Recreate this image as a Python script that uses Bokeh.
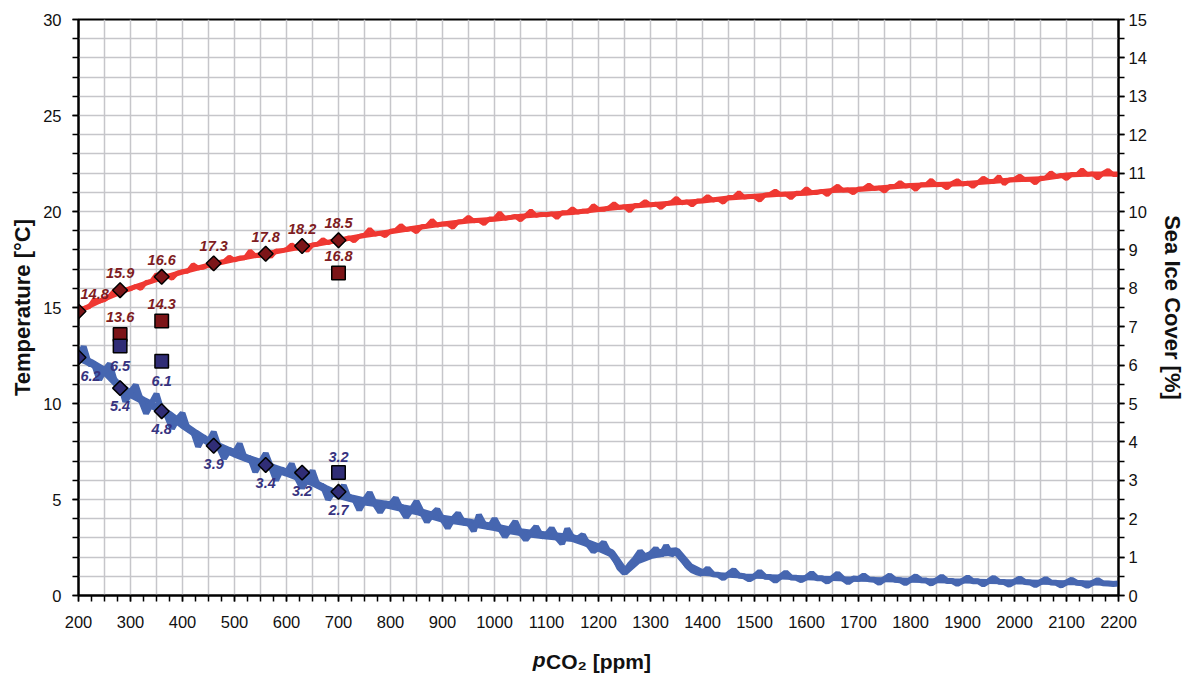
import numpy as np
from bokeh.plotting import figure
from bokeh.models import Range1d, LinearAxis, SingleIntervalTicker, FixedTicker
from bokeh.core.properties import value
from bokeh.embed import file_html
from bokeh.resources import INLINE

# ---------------- data ----------------
# smooth centre of the two model bands
temp_trend_co2 = list(range(200, 2201, 50))
temp_trend = [
    14.8, 15.45, 16.0, 16.45, 16.85, 17.2, 17.5, 17.75, 18.0, 18.25,
    18.5, 18.75, 18.95, 19.15, 19.35, 19.5, 19.6, 19.75, 19.85, 19.95,
    20.1, 20.25, 20.35, 20.45, 20.55, 20.7, 20.8, 20.9, 20.95, 21.1,
    21.15, 21.25, 21.35, 21.4, 21.45, 21.55, 21.65, 21.7, 21.9, 21.95,
    21.95,
]
ice_trend_co2 = list(range(200, 2201, 25))
ice_trend = [
    6.2, 6.05, 5.85, 5.5, 5.25, 5.07, 4.9, 4.7,
    4.45, 4.22, 4.0, 3.85, 3.7, 3.57, 3.45, 3.32,
    3.2, 3.07, 2.95, 2.78, 2.62, 2.53, 2.45, 2.4,
    2.35, 2.27, 2.2, 2.1, 2.0, 1.95, 1.9, 1.84,
    1.78, 1.71, 1.65, 1.6, 1.56, 1.53, 1.5, 1.38,
    1.25, 1.1, 0.62, 0.92, 1.05, 1.12, 1.15, 0.75,
    0.58, 0.55, 0.53, 0.51, 0.5, 0.49, 0.48, 0.47,
    0.46, 0.45, 0.44, 0.43, 0.42, 0.415, 0.41, 0.405,
    0.4, 0.39, 0.385, 0.38, 0.375, 0.37, 0.365, 0.36,
    0.355, 0.35, 0.345, 0.34, 0.335, 0.33, 0.325, 0.32,
    0.315,
]

# noisy model output (spikes of the bands)
co2_grid = list(range(200, 2201, 10))  # ppm
temp_model = [
    14.8, 14.96, 15.02, 15.41, 15.32, 15.4, 15.6, 15.92, 15.75, 15.91,
    15.96, 16.11, 15.98, 16.32, 16.36, 16.73, 16.5, 16.65, 16.51, 16.8,
    16.87, 16.88, 17.24, 17.06, 17.08, 17.23, 17.04, 17.36, 17.4, 17.64,
    17.47, 17.59, 17.58, 17.95, 17.7, 17.71, 17.82, 17.65, 17.95, 17.95,
    18.03, 18.27, 18.08, 18.19, 17.95, 18.27, 18.3, 18.55, 18.37, 18.47,
    18.5, 18.52, 18.64, 18.45, 18.72, 18.78, 19.09, 18.81, 18.87, 18.73,
    18.98, 19.03, 19.28, 19.05, 19.11, 18.93, 19.22, 19.25, 19.55, 19.28,
    19.35, 19.34, 19.16, 19.47, 19.49, 19.72, 19.5, 19.54, 19.36, 19.62,
    19.62, 19.93, 19.63, 19.69, 19.76, 19.55, 19.79, 20.04, 19.79, 19.86,
    19.82, 19.89, 19.67, 19.95, 19.93, 20.15, 19.95, 20.03, 20.0, 20.32,
    20.12, 20.1, 20.2, 20.41, 20.2, 20.25, 20.02, 20.32, 20.33, 20.53,
    20.33, 20.4, 20.19, 20.41, 20.47, 20.7, 20.44, 20.51, 20.33, 20.56,
    20.57, 20.8, 20.58, 20.64, 20.47, 20.74, 20.74, 20.99, 20.74, 20.78,
    20.77, 20.57, 20.86, 20.9, 21.08, 20.88, 20.91, 20.7, 20.96, 20.96,
    21.2, 20.98, 20.98, 21.06, 20.87, 21.14, 21.33, 21.1, 21.13, 20.96,
    21.18, 21.19, 21.39, 21.18, 21.23, 21.05, 21.31, 21.31, 21.53, 21.31,
    21.35, 21.14, 21.4, 21.4, 21.64, 21.38, 21.41, 21.22, 21.47, 21.62,
    21.42, 21.49, 21.29, 21.51, 21.75, 21.58, 21.55, 21.84, 21.43, 21.65,
    21.68, 21.86, 21.65, 21.68, 21.47, 21.74, 21.76, 22.03, 21.82, 21.89,
    21.7, 21.94, 21.92, 22.18, 21.92, 21.97, 21.73, 21.99, 22.15, 21.92,
    21.92,
]
ice_model = [
    6.25, 6.48, 6.03, 6.03, 5.62, 5.87, 6.03, 5.57, 5.51, 5.05,
    5.29, 5.48, 5.09, 4.74, 5.0, 5.25, 4.81, 4.68, 4.35, 4.59,
    4.75, 4.33, 4.29, 3.88, 4.13, 4.0, 4.26, 3.86, 3.57, 3.79,
    3.72, 3.95, 3.56, 3.58, 3.22, 3.47, 3.7, 3.35, 3.0, 3.29,
    3.2, 3.43, 3.07, 2.8, 3.02, 3.25, 2.86, 2.85, 2.5, 2.7,
    2.65, 2.87, 2.53, 2.52, 2.23, 2.48, 2.68, 2.38, 2.17, 2.39,
    2.37, 2.54, 2.26, 2.04, 2.23, 2.45, 2.18, 1.92, 2.11, 2.24,
    1.98, 1.76, 1.99, 2.14, 1.9, 1.9, 1.68, 2.1, 1.85, 1.77,
    2.0, 1.75, 1.53, 1.73, 1.93, 1.63, 1.45, 1.63, 1.79, 1.54,
    1.58, 1.75, 1.51, 1.35, 1.74, 1.5, 1.48, 1.58, 1.33, 1.15,
    1.25, 1.38, 1.12, 1.0, 0.72, 0.58, 0.8, 0.95, 1.15, 1.0,
    1.08, 1.22, 1.04, 1.3, 1.06, 1.15, 1.0, 0.78, 0.66, 0.6,
    0.58, 0.7, 0.55, 0.54, 0.45, 0.56, 0.66, 0.52, 0.5, 0.42,
    0.5, 0.62, 0.49, 0.48, 0.38, 0.49, 0.6, 0.47, 0.46, 0.4,
    0.47, 0.58, 0.45, 0.45, 0.36, 0.46, 0.57, 0.44, 0.34, 0.44,
    0.43, 0.52, 0.42, 0.41, 0.33, 0.43, 0.52, 0.41, 0.4, 0.32,
    0.41, 0.5, 0.4, 0.39, 0.31, 0.4, 0.49, 0.38, 0.38, 0.3,
    0.38, 0.47, 0.37, 0.37, 0.29, 0.37, 0.46, 0.36, 0.35, 0.28,
    0.36, 0.44, 0.35, 0.34, 0.27, 0.35, 0.43, 0.34, 0.33, 0.26,
    0.34, 0.41, 0.33, 0.32, 0.25, 0.33, 0.4, 0.32, 0.31, 0.3,
    0.31,
]

exp_co2 = [200, 280, 360, 460, 560, 630, 700]
exp_temp = [14.8, 15.9, 16.6, 17.3, 17.8, 18.2, 18.5]
exp_ice = [6.2, 5.4, 4.8, 3.9, 3.4, 3.2, 2.7]

obs_co2 = [280, 360, 700]
obs_temp = [13.6, 14.3, 16.8]
obs_ice = [6.5, 6.1, 3.2]
obs_ice_label_above = [False, False, True]

x_title_italic = "p"
x_title_rest = "CO\u2082 [ppm]"

# ---------------- style ----------------
FONT = "Liberation Sans"
RED_BAND = "#EF3832"
BLUE_BAND = "#4666B0"
RED_MARK = "#7C1518"
BLUE_MARK = "#302D76"
RED_TXT = "#7E1C22"
BLUE_TXT = "#37337F"
GRID = "#C6C6CA"
P_POS = 1086  # where the italic "p" of the x title sits (ppm)

p = figure(width=1187, height=675,
           x_range=Range1d(200, 2200), y_range=Range1d(0, 30),
           output_backend="svg", toolbar_location=None,
           min_border_left=78, min_border_right=65,
           min_border_top=19, min_border_bottom=80)
p.extra_y_ranges = {"ice": Range1d(0, 15)}
p.background_fill_color = "white"
p.border_fill_color = "white"
p.outline_line_color = "black"
p.outline_line_width = 2

# grids
p.xgrid.ticker = SingleIntervalTicker(interval=50)
p.ygrid.ticker = SingleIntervalTicker(interval=1)
for g in (p.xgrid, p.ygrid):
    g.grid_line_color = GRID
    g.grid_line_width = 1.5

def style_axis(ax):
    ax.axis_line_color = "black"
    ax.axis_line_width = 2
    ax.major_tick_line_color = "black"
    ax.minor_tick_line_color = "black"
    ax.major_tick_line_width = 1.5
    ax.minor_tick_line_width = 1.5
    ax.major_tick_in = 0
    ax.minor_tick_in = 0
    ax.major_tick_out = 6
    ax.minor_tick_out = 6
    ax.major_label_text_font = FONT
    ax.major_label_text_font_size = "16.5px"
    ax.major_label_text_color = "#111111"
    ax.axis_label_text_font = FONT
    ax.axis_label_text_font_style = "bold"
    ax.axis_label_text_color = "#111111"

xa = p.xaxis[0]
xa.ticker = SingleIntervalTicker(interval=100, num_minor_ticks=4)
style_axis(xa)
xa.major_label_standoff = 14

# second, invisible x axis that only carries the title "pCO2 [ppm]"
xb = LinearAxis(ticker=FixedTicker(ticks=[P_POS], minor_ticks=[]),
                major_label_overrides={P_POS: x_title_italic},
                axis_label=x_title_rest)
style_axis(xb)
xb.axis_line_color = None
xb.major_tick_line_color = None
xb.minor_tick_line_color = None
xb.major_tick_out = 0
xb.minor_tick_out = 0
xb.major_label_text_font_style = "bold italic"
xb.major_label_text_font_size = "21px"
xb.axis_label_text_font_size = "21px"
xb.major_label_standoff = 17
xb.axis_label_standoff = -24
p.add_layout(xb, "below")

ya = p.yaxis[0]
ya.ticker = SingleIntervalTicker(interval=5, num_minor_ticks=5)
style_axis(ya)
ya.axis_label = "Temperature [°C]"
ya.axis_label_text_font_size = "22px"
ya.major_label_standoff = 11
ya.axis_label_standoff = 5

ra = LinearAxis(y_range_name="ice",
                ticker=SingleIntervalTicker(interval=1, num_minor_ticks=2),
                axis_label="Sea Ice Cover [%]")
style_axis(ra)
ra.axis_label_text_font_size = "22px"
ra.major_label_standoff = 4
ra.axis_label_standoff = 10
p.add_layout(ra, "right")

# bands: centre line + noisy model output on top
p.line(temp_trend_co2, temp_trend, line_color=RED_BAND, line_width=5)
p.line(co2_grid, temp_model, line_color=RED_BAND, line_width=4.5)
split = ice_trend_co2.index(1400)
p.line(ice_trend_co2[:split + 1], ice_trend[:split + 1], y_range_name="ice",
       line_color=BLUE_BAND, line_width=8)
p.line(ice_trend_co2[split:], ice_trend[split:], y_range_name="ice",
       line_color=BLUE_BAND, line_width=5)
p.line(co2_grid, ice_model, y_range_name="ice",
       line_color=BLUE_BAND, line_width=6)

# markers
p.scatter(exp_co2, exp_temp, marker="square", angle=np.pi / 4, size=10.5,
          fill_color=RED_MARK, line_color="black", line_width=1.5)
p.scatter(obs_co2, obs_temp, marker="square", size=13.5,
          fill_color=RED_MARK, line_color="black", line_width=1.5)
p.scatter(exp_co2, exp_ice, marker="square", angle=np.pi / 4, size=10.5,
          fill_color=BLUE_MARK, line_color="black", line_width=1.5,
          y_range_name="ice")
p.scatter(obs_co2, obs_ice, marker="square", size=13.5,
          fill_color=BLUE_MARK, line_color="black", line_width=1.5,
          y_range_name="ice")

txt = dict(text_font=value(FONT), text_font_style="bold italic",
           text_font_size="14.5px", text_baseline="middle")

# labels of the first point sit against the left axis (kept inside frame)
p.text(exp_co2[:1], exp_temp[:1], text=[f"{v:.1f}" for v in exp_temp[:1]],
       text_color=RED_TXT, y_offset=-17, text_align="left", x_offset=2, **txt)
p.text(exp_co2[1:], exp_temp[1:], text=[f"{v:.1f}" for v in exp_temp[1:]],
       text_color=RED_TXT, y_offset=-17, text_align="center", **txt)
p.text(obs_co2, obs_temp, text=[f"{v:.1f}" for v in obs_temp],
       text_color=RED_TXT, y_offset=-17, text_align="center", **txt)
p.text(exp_co2[:1], exp_ice[:1], text=[f"{v:.1f}" for v in exp_ice[:1]],
       text_color=BLUE_TXT, y_offset=19, y_range_name="ice",
       text_align="left", x_offset=2, **txt)
p.text(exp_co2[1:], exp_ice[1:], text=[f"{v:.1f}" for v in exp_ice[1:]],
       text_color=BLUE_TXT, y_offset=18, y_range_name="ice",
       text_align="center", **txt)
below = [i for i, a in enumerate(obs_ice_label_above) if not a]
above = [i for i, a in enumerate(obs_ice_label_above) if a]
p.text([obs_co2[i] for i in below], [obs_ice[i] for i in below],
       text=[f"{obs_ice[i]:.1f}" for i in below],
       text_color=BLUE_TXT, y_offset=20, y_range_name="ice",
       text_align="center", **txt)
p.text([obs_co2[i] for i in above], [obs_ice[i] for i in above],
       text=[f"{obs_ice[i]:.1f}" for i in above],
       text_color=BLUE_TXT, y_offset=-16, y_range_name="ice",
       text_align="center", **txt)

open("out.html", "w").write(file_html(p, INLINE))
